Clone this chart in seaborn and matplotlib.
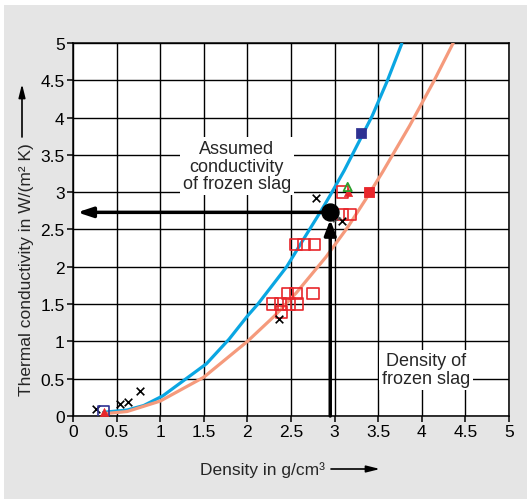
import matplotlib
matplotlib.use("Agg")
import matplotlib.pyplot as plt
from matplotlib.patches import Rectangle
import pandas as pd
import seaborn as sns

# Model curves (density g/cm3, conductivity W/(m2 K))
blue_x = [0.35, 0.62, 0.81, 1.03, 1.53, 1.79, 2.00, 2.12, 2.45, 2.67, 2.85, 2.95, 3.11, 3.43, 3.60, 3.77]
blue_y = [0.05, 0.08, 0.14, 0.27, 0.70, 1.03, 1.34, 1.50, 2.00, 2.42, 2.76, 2.96, 3.29, 4.02, 4.48, 4.99]
orange_x = [0.35, 0.62, 1.00, 1.50, 2.00, 2.31, 2.56, 2.90, 3.15, 3.36, 3.55, 3.86, 4.13, 4.36]
orange_y = [0.03, 0.06, 0.20, 0.52, 1.00, 1.34, 1.65, 2.13, 2.53, 2.91, 3.27, 3.89, 4.47, 5.00]

# Measurements
sq_x = [2.46, 2.56, 2.75, 2.29, 2.38, 2.48, 2.57, 2.39, 2.56, 2.65, 2.77, 3.09, 3.18, 3.09]
sq_y = [1.64, 1.64, 1.64, 1.50, 1.50, 1.50, 1.50, 1.39, 2.30, 2.30, 2.30, 2.70, 2.70, 3.00]
cross_x = [0.26, 0.54, 0.63, 0.77, 2.36, 2.79, 3.09]
cross_y = [0.10, 0.16, 0.19, 0.33, 1.30, 2.92, 2.61]
red_fill_x, red_fill_y = [3.40], [3.00]
red_tri_x, red_tri_y = [3.15, 0.35], [3.00, 0.05]
green_tri_x, green_tri_y = [3.15], [3.07]
navy_sq_x, navy_sq_y = [3.30], [3.80]
navy_open_x, navy_open_y = [0.35], [0.05]
grey_tri_x, grey_tri_y = [3.03], [2.65]

slag_density = 2.95
slag_conductivity = 2.73

ticks = [0, 0.5, 1, 1.5, 2, 2.5, 3, 3.5, 4, 4.5, 5]
tick_labels = ["0", "0.5", "1", "1.5", "2", "2.5", "3", "3.5", "4", "4.5", "5"]

BLUE = "#0aa6e2"
ORANGE = "#f59a7c"
RED = "#e8262b"
NAVY = "#2e3192"

sns.set_style("white")
plt.rcParams["font.family"] = ["Liberation Sans", "DejaVu Sans"]

fig = plt.figure(figsize=(5.27, 5.02), dpi=100)
fig.patch.set_facecolor("white")
fig.add_artist(Rectangle((4 / 527, 2 / 502), 523 / 527, 494 / 502,
                         transform=fig.transFigure, facecolor="#e5e5e5",
                         edgecolor="none", zorder=-10))
ax = fig.add_axes([73 / 527, 1 - 417 / 502, 436 / 527, 373 / 502])
ax.set_facecolor("white")

curves = pd.DataFrame({"x": blue_x + orange_x, "y": blue_y + orange_y,
                       "curve": ["a"] * len(blue_x) + ["b"] * len(orange_x)})
sns.lineplot(data=curves, x="x", y="y", hue="curve", palette=[BLUE, ORANGE],
             linewidth=2.3, legend=False, ax=ax, zorder=3, sort=False)

sns.scatterplot(x=sq_x, y=sq_y, marker="s", s=70, facecolor="none",
                edgecolor=RED, linewidth=1.2, ax=ax, zorder=4)
sns.scatterplot(x=cross_x, y=cross_y, marker="x", s=30, color="black",
                linewidth=1.2, ax=ax, zorder=4)
sns.scatterplot(x=red_fill_x, y=red_fill_y, marker="s", s=60, color=RED,
                edgecolor=RED, ax=ax, zorder=4)
sns.scatterplot(x=navy_open_x, y=navy_open_y, marker="s", s=70, facecolor="none",
                edgecolor=NAVY, linewidth=1.2, ax=ax, zorder=4)
sns.scatterplot(x=red_tri_x, y=red_tri_y, marker="^", s=35, color=RED,
                edgecolor=RED, ax=ax, zorder=5)
sns.scatterplot(x=green_tri_x, y=green_tri_y, marker="^", s=35, facecolor="none",
                edgecolor="#2ca02c", linewidth=1.3, ax=ax, zorder=5)
sns.scatterplot(x=navy_sq_x, y=navy_sq_y, marker="s", s=45, color=NAVY,
                edgecolor=NAVY, ax=ax, zorder=4)
sns.scatterplot(x=grey_tri_x, y=grey_tri_y, marker=">", s=30, facecolor="none",
                edgecolor="#555555", linewidth=0.8, ax=ax, zorder=4)

# Frozen slag construction lines
ax.annotate("", xy=(slag_density, slag_conductivity - 0.1), xytext=(slag_density, 0),
            arrowprops=dict(arrowstyle="-|>,head_length=0.9,head_width=0.35",
                            color="black", lw=2.5, shrinkA=0, shrinkB=0), zorder=6)
ax.annotate("", xy=(0.05, slag_conductivity), xytext=(slag_density, slag_conductivity),
            arrowprops=dict(arrowstyle="-|>,head_length=0.9,head_width=0.3",
                            color="black", lw=2.5, shrinkA=0, shrinkB=0), zorder=6)
sns.scatterplot(x=[slag_density], y=[slag_conductivity], marker="o", s=150,
                color="black", edgecolor="black", ax=ax, zorder=7)

ax.text(1.88, 3.35, "Assumed\nconductivity\nof frozen slag", ha="center", va="center",
        fontsize=13, linespacing=1.05, zorder=5,
        bbox=dict(facecolor="white", edgecolor="none", pad=2))
ax.text(4.05, 0.62, "Density of\nfrozen slag", ha="center", va="center",
        fontsize=13, linespacing=1.05, zorder=5,
        bbox=dict(facecolor="white", edgecolor="none", pad=2))

ax.set_xlim(0, 5)
ax.set_ylim(0, 5)
ax.set_xticks(ticks)
ax.set_xticklabels(tick_labels)
ax.set_yticks(ticks)
ax.set_yticklabels(tick_labels)
ax.grid(True, color="black", linewidth=1.0)
ax.set_axisbelow(True)
for sp in ax.spines.values():
    sp.set_color("black")
    sp.set_linewidth(1.1)
ax.tick_params(axis="both", labelsize=12.5, colors="black", direction="out",
               length=4, width=1.1, pad=2, bottom=True, left=True)
ax.set_xlabel("")
ax.set_ylabel("")

fig.text(263 / 527, 1 - 470 / 502, "Density in g/cm³", ha="center", va="center",
         fontsize=12.5)
fig.text(27 / 527, 1 - 270 / 502, "Thermal conductivity in W/(m² K)", ha="center",
         va="center", rotation=90, fontsize=12.5)
ax.annotate("", xy=(380 / 527, 1 - 470 / 502), xytext=(331 / 527, 1 - 470 / 502),
            xycoords="figure fraction", textcoords="figure fraction",
            arrowprops=dict(arrowstyle="-|>,head_length=0.8,head_width=0.2",
                            color="black", lw=1.2, shrinkA=0, shrinkB=0))
ax.annotate("", xy=(22 / 527, 1 - 85 / 502), xytext=(22 / 527, 1 - 138 / 502),
            xycoords="figure fraction", textcoords="figure fraction",
            arrowprops=dict(arrowstyle="-|>,head_length=0.8,head_width=0.2",
                            color="black", lw=1.2, shrinkA=0, shrinkB=0))

fig.savefig("out.png", dpi=100)
